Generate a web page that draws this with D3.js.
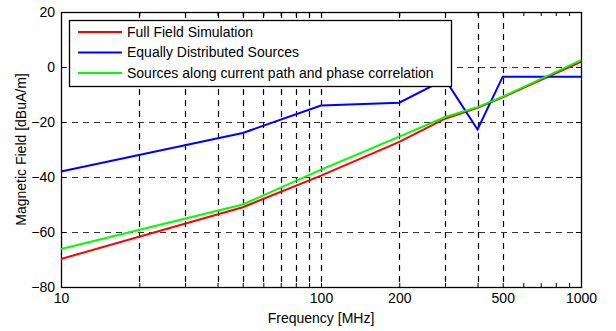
<!DOCTYPE html>
<html>
<head>
<meta charset="utf-8">
<script src="https://cdn.jsdelivr.net/npm/d3@7"></script>
<style>
  body { margin: 0; background: #fff; }
  text { font-family: "Liberation Sans", Arial, sans-serif; font-size: 14px; fill: #000; }
</style>
</head>
<body>
<div id="chart"></div>
<script>
const freqs = [10, 50, 100, 200, 300, 400, 500, 1000];
const fullField = [-69.8, -51, -39.5, -27.2, -18.8, -14.8, -11, 1.9];
const equallyDistributed = [-38, -24, -14, -13, -4.5, -22.7, -3.5, -3.5];
const currentPath = [-66.2, -50, -37.3, -25.3, -18.2, -14.6, -10.8, 2.5];

const seriesNames = ['Full Field Simulation', 'Equally Distributed Sources', 'Sources along current path and phase correlation'];
const seriesColors = ['#ff0000', '#0000ff', '#00ff00'];

const xGridValues = [20, 30, 40, 50, 60, 70, 80, 90, 100, 200, 300, 400, 500];
const xTickValues = [10, 20, 30, 40, 50, 60, 70, 80, 90, 100, 200, 300, 400, 500, 600, 700, 800, 900, 1000];
const xTickLabels = [10, 100, 200, 500, 1000];
const yTickValues = [-80, -60, -40, -20, 0, 20];
const yGridValues = [-60, -40, -20, 0];

const width = 616, height = 331;
const margin = { top: 12, right: 35, bottom: 44, left: 61 };
const iw = width - margin.left - margin.right;
const ih = height - margin.top - margin.bottom;

const svg = d3.select('#chart').append('svg')
  .attr('width', width)
  .attr('height', height);

const g = svg.append('g')
  .attr('transform', `translate(${margin.left},${margin.top})`);

const x = d3.scaleLog().domain([10, 1000]).range([0, iw]);
const y = d3.scaleLinear().domain([-80, 20]).range([ih, 0]);

// grid
g.append('g').selectAll('line')
  .data(xGridValues)
  .enter().append('line')
  .attr('x1', d => Math.round(x(d)) + 0.5).attr('x2', d => Math.round(x(d)) + 0.5)
  .attr('y1', 0).attr('y2', ih)
  .attr('stroke', '#000').attr('stroke-width', 1.2)
  .attr('stroke-dasharray', '6,5');

g.append('g').selectAll('line')
  .data(yGridValues)
  .enter().append('line')
  .attr('x1', 0).attr('x2', iw)
  .attr('y1', d => Math.round(y(d)) + 0.5).attr('y2', d => Math.round(y(d)) + 0.5)
  .attr('stroke', '#333').attr('stroke-width', 1)
  .attr('stroke-dasharray', '6,5');

// axes
const fmtX = d => xTickLabels.includes(d) ? d : '';

g.append('g')
  .attr('transform', `translate(0,${ih})`)
  .call(d3.axisBottom(x).tickValues(xTickValues).tickFormat(fmtX).tickSizeInner(-4).tickSizeOuter(0).tickPadding(6))
  .call(a => a.select('.domain').remove());

g.append('g')
  .call(d3.axisTop(x).tickValues(xTickValues).tickFormat('').tickSizeInner(-4).tickSizeOuter(0))
  .call(a => a.select('.domain').remove());

g.append('g')
  .call(d3.axisLeft(y).tickValues(yTickValues).tickSizeInner(-5).tickSizeOuter(0).tickPadding(6))
  .call(a => a.select('.domain').remove());

g.append('g')
  .attr('transform', `translate(${iw},0)`)
  .call(d3.axisRight(y).tickValues(yTickValues).tickFormat('').tickSizeInner(-5).tickSizeOuter(0))
  .call(a => a.select('.domain').remove());

g.selectAll('.tick text')
  .style('font-size', '14px')
  .style('font-family', '"Liberation Sans", Arial, sans-serif');

g.append('rect')
  .attr('x', 0.5).attr('y', 0.5)
  .attr('width', iw).attr('height', ih)
  .attr('fill', 'none').attr('stroke', '#000').attr('stroke-width', 1.3);

// lines
const series = [fullField, equallyDistributed, currentPath];
const line = d3.line()
  .x((d, i) => x(freqs[i]))
  .y(d => y(d));

series.forEach((s, i) => {
  g.append('path')
    .datum(s)
    .attr('fill', 'none')
    .attr('stroke', seriesColors[i])
    .attr('stroke-width', 2)
    .attr('d', line);
});

// legend
const lg = g.append('g').attr('transform', 'translate(8,8)');
lg.append('rect')
  .attr('x', 0.5).attr('y', 0.5)
  .attr('width', 382).attr('height', 66)
  .attr('fill', '#fff').attr('stroke', '#000').attr('stroke-width', 1.3);

seriesNames.forEach((name, i) => {
  const yy = 12 + i * 20.5;
  lg.append('line')
    .attr('x1', 9).attr('x2', 53)
    .attr('y1', yy).attr('y2', yy)
    .attr('stroke', seriesColors[i]).attr('stroke-width', 2);
  lg.append('text')
    .attr('x', 58).attr('y', yy)
    .attr('dy', '0.35em')
    .text(name);
});

// axis labels
svg.append('text')
  .attr('x', margin.left + iw / 2)
  .attr('y', 323)
  .attr('text-anchor', 'middle')
  .text('Frequency [MHz]');

svg.append('text')
  .attr('transform', `translate(26,${margin.top + ih / 2}) rotate(-90)`)
  .attr('text-anchor', 'middle')
  .text('Magnetic Field [dBuA/m]');
</script>
</body>
</html>
